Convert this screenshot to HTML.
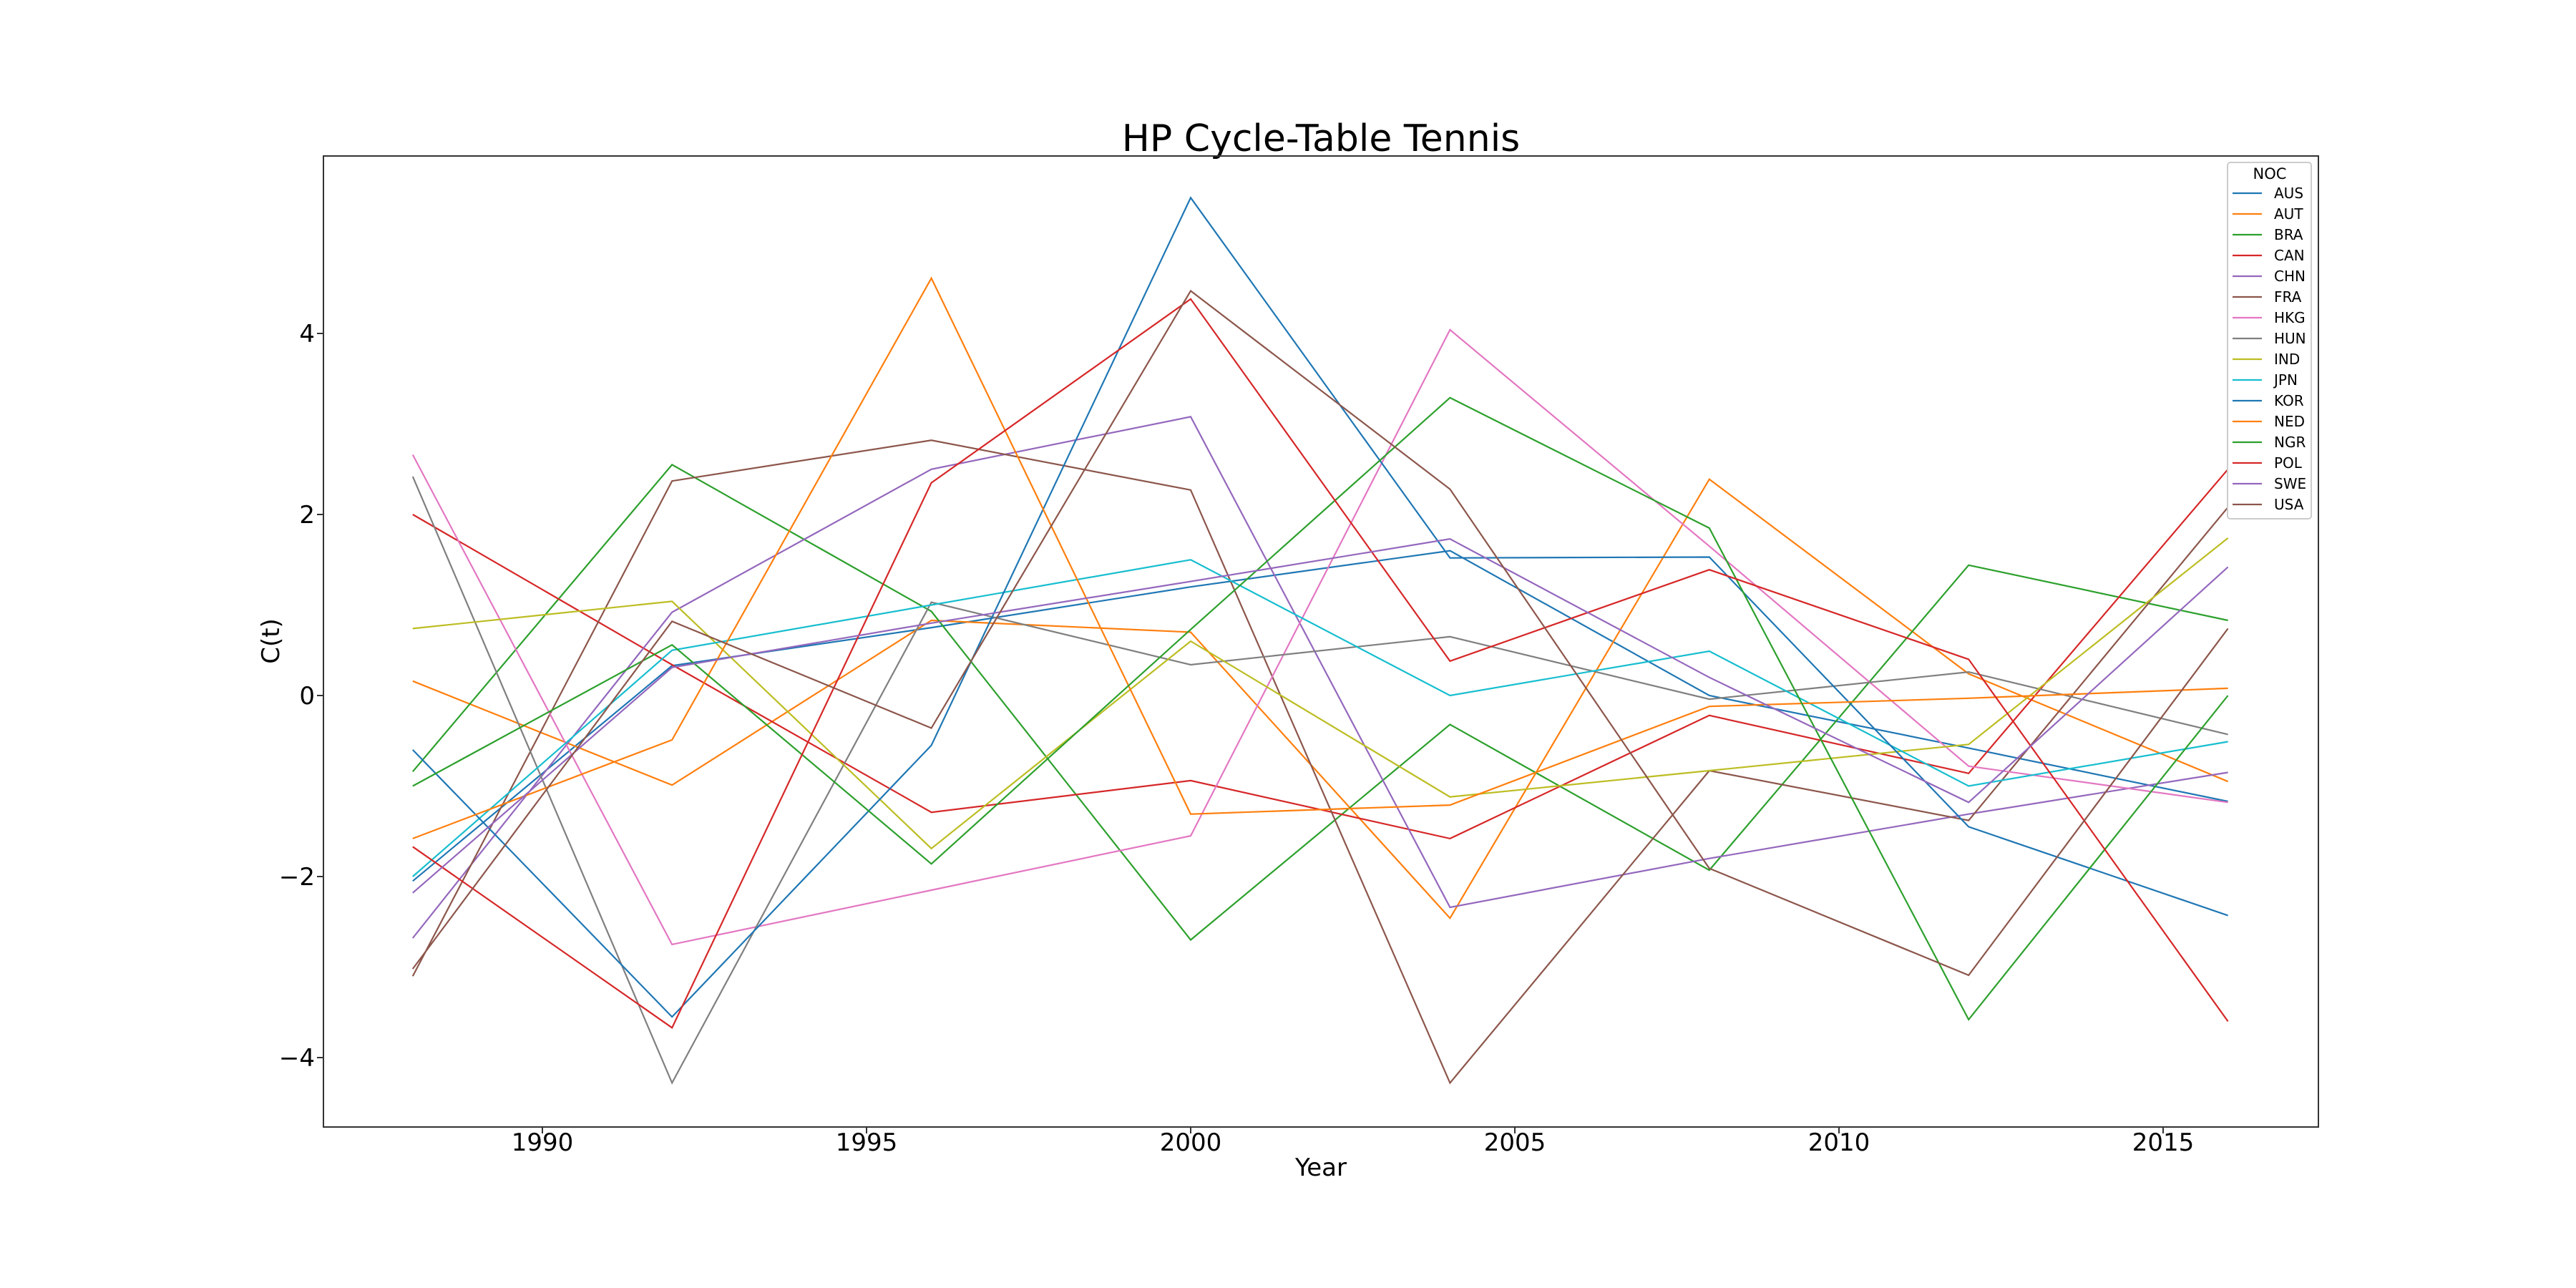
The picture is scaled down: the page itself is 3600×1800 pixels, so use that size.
<!DOCTYPE html>
<html><head><meta charset="utf-8"><style>
body{margin:0;background:#fff}
svg{display:block;font-family:"DejaVu Sans","Liberation Sans",sans-serif}
</style></head><body>
<svg id="chart" width="3600" height="1800" viewBox="0 0 3600 1800" xmlns="http://www.w3.org/2000/svg">
<rect width="3600" height="1800" fill="#fff"/>
<text x="1846" y="211" font-size="52" text-anchor="middle">HP Cycle-Table Tennis</text>
<g id="grid-layer"></g>
<g id="lines-layer"></g>
<rect x="452" y="218" width="2788" height="1357" fill="none" stroke="#333" stroke-width="2"/>
<g id="ticks-layer"></g>
<text x="1846" y="1643" font-size="34" text-anchor="middle">Year</text>
<text x="0" y="0" font-size="34" text-anchor="middle" transform="translate(390,896) rotate(-90)">C(t)</text>
<g id="legend-layer">
<rect x="3113" y="227" width="117" height="498" rx="4" fill="#fff" fill-opacity="0.8" stroke="#ccc" stroke-width="2"/>
<text x="3172" y="250" font-size="21" text-anchor="middle">NOC</text>
</g>
</svg>
<script>
const years = [1988,1992,1996,2000,2004,2008,2012,2016];
const nocs = ["AUS","AUT","BRA","CAN","CHN","FRA","HKG","HUN","IND","JPN","KOR","NED","NGR","POL","SWE","USA"];
const colors = ["#1f77b4","#ff7f0e","#2ca02c","#d62728","#9467bd","#8c564b","#e377c2","#7f7f7f","#bcbd22","#17becf","#1f77b4","#ff7f0e","#2ca02c","#d62728","#9467bd","#8c564b"];
const AUS = [-2.05,0.33,0.75,1.2,1.6,0.0,-0.58,-1.17];
const AUT = [0.16,-0.99,0.83,0.7,-2.46,2.39,0.24,-0.95];
const BRA = [-0.84,2.55,0.93,-2.7,-0.32,-1.93,1.44,0.83];
const CAN = [2.0,0.34,-1.29,-0.94,-1.58,-0.22,-0.86,2.5];
const CHN = [-2.68,0.92,2.5,3.08,-2.34,-1.8,-1.31,-0.85];
const FRA = [-3.1,2.37,2.82,2.27,-4.28,-0.83,-1.38,2.08];
const HKG = [2.66,-2.75,-2.15,-1.55,4.04,1.65,-0.78,-1.18];
const HUN = [2.42,-4.28,1.03,0.34,0.65,-0.04,0.26,-0.43];
const IND = [0.74,1.04,-1.69,0.6,-1.12,-0.83,-0.54,1.74];
const JPN = [-2.0,0.5,1.0,1.5,0.0,0.49,-1.0,-0.51];
const KOR = [-0.6,-3.55,-0.55,5.5,1.52,1.53,-1.45,-2.43];
const NED = [-1.58,-0.49,4.61,-1.31,-1.21,-0.12,-0.03,0.08];
const NGR = [-1.0,0.56,-1.86,0.73,3.29,1.85,-3.58,0.0];
const POL = [-1.67,-3.67,2.35,4.38,0.38,1.39,0.4,-3.6];
const SWE = [-2.18,0.31,0.8,1.26,1.73,0.2,-1.18,1.42];
const USA = [-3.02,0.82,-0.36,4.47,2.28,-1.91,-3.09,0.74];
const seriesValues = [AUS,AUT,BRA,CAN,CHN,FRA,HKG,HUN,IND,JPN,KOR,NED,NGR,POL,SWE,USA];
const xTicks = [1990,1995,2000,2005,2010,2015];
const yTicks = [-4,-2,0,2,4];

const NS = "http://www.w3.org/2000/svg";
function xScale(yr){ return 758 + (yr - 1990) * 90.6; }
function yScale(v){ return 972 - v * 126.5; }

const lines = document.getElementById('lines-layer');
seriesValues.forEach((vals, i) => {
  const pts = vals.map((v, j) => xScale(years[j]).toFixed(1) + ',' + yScale(v).toFixed(1)).join(' ');
  const pl = document.createElementNS(NS, 'polyline');
  pl.setAttribute('points', pts);
  pl.setAttribute('fill', 'none');
  pl.setAttribute('stroke', colors[i]);
  pl.setAttribute('stroke-width', '2.2');
  
  
  lines.appendChild(pl);
});

const ticks = document.getElementById('ticks-layer');
xTicks.forEach(t => {
  const x = xScale(t);
  const l = document.createElementNS(NS, 'line');
  l.setAttribute('x1', x); l.setAttribute('x2', x);
  l.setAttribute('y1', 1575); l.setAttribute('y2', 1584);
  l.setAttribute('stroke', '#333'); l.setAttribute('stroke-width', '2');
  
  
  ticks.appendChild(l);
  const tx = document.createElementNS(NS, 'text');
  tx.setAttribute('x', x); tx.setAttribute('y', 1608);
  tx.setAttribute('font-size', '34'); tx.setAttribute('text-anchor', 'middle');
  tx.textContent = t;
  
  
  ticks.appendChild(tx);
});
yTicks.forEach(t => {
  const y = yScale(t);
  const l = document.createElementNS(NS, 'line');
  l.setAttribute('x1', 443); l.setAttribute('x2', 452);
  l.setAttribute('y1', y); l.setAttribute('y2', y);
  l.setAttribute('stroke', '#333'); l.setAttribute('stroke-width', '2');
  
  
  ticks.appendChild(l);
  const tx = document.createElementNS(NS, 'text');
  tx.setAttribute('x', 440); tx.setAttribute('y', y + 12);
  tx.setAttribute('font-size', '34'); tx.setAttribute('text-anchor', 'end');
  tx.textContent = t < 0 ? '\u2212' + Math.abs(t) : String(t);
  
  
  ticks.appendChild(tx);
});

const legend = document.getElementById('legend-layer');
nocs.forEach((n, i) => {
  const y = 270 + i * 29;
  const l = document.createElementNS(NS, 'line');
  l.setAttribute('x1', 3120); l.setAttribute('x2', 3161);
  l.setAttribute('y1', y); l.setAttribute('y2', y);
  l.setAttribute('stroke', colors[i]); l.setAttribute('stroke-width', '2.2');
  
  
  legend.appendChild(l);
  const tx = document.createElementNS(NS, 'text');
  tx.setAttribute('x', 3178); tx.setAttribute('y', y + 7);
  tx.setAttribute('font-size', '20');
  tx.textContent = n;
  
  
  legend.appendChild(tx);
});
</script>
</body></html>
